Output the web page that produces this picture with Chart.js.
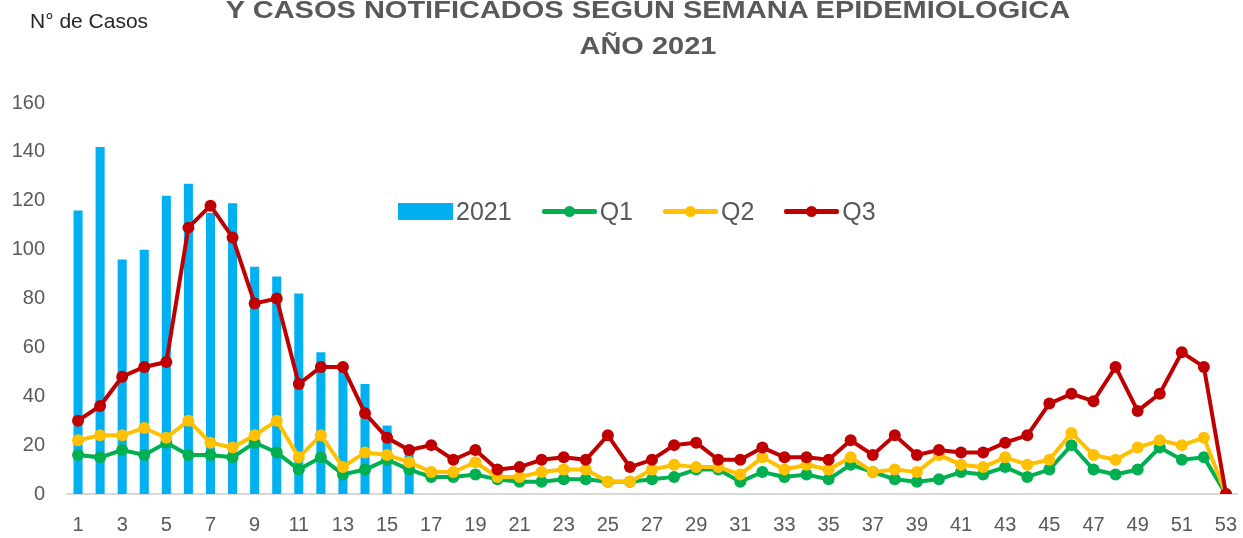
<!DOCTYPE html>
<html>
<head>
<meta charset="utf-8">
<script src="https://cdn.jsdelivr.net/npm/chart.js@4.4.1/dist/chart.umd.min.js"></script>
<style>
  html, body { margin: 0; padding: 0; background: #ffffff; }
  #wrap { position: relative; width: 1243px; height: 538px; overflow: hidden; font-family: "Liberation Sans", Arial, sans-serif; }
  #chart { position: absolute; left: 0; top: 0; }
  .title { position: absolute; left: 0; width: 1296px; text-align: center; font-weight: bold; font-size: 29px; color: #595959; white-space: nowrap; line-height: 1; transform: scaleY(0.82); transform-origin: 50% 0; }
  #ylabel { position: absolute; left: 30px; top: 8px; font-size: 21px; color: #262626; white-space: nowrap; line-height: 1.2; }
  #legend { position: absolute; left: 398px; top: 197px; display: flex; align-items: center; font-size: 25px; color: #595959; white-space: nowrap; }
  .li { display: flex; align-items: center; margin-right: 30px; }
  .sw { position: relative; width: 55px; height: 17px; margin-right: 3px; }
</style>
</head>
<body>
<div id="wrap">
  <canvas id="chart" width="1243" height="538"></canvas>
  <div class="title" id="t1" style="top:-2px;">Y CASOS NOTIFICADOS SEGUN SEMANA EPIDEMIOLOGICA</div>
  <div class="title" id="t2" style="top:34px;">AÑO 2021</div>
  <div id="ylabel">N° de Casos</div>
  <div id="legend"></div>
</div>
<script>
const weeks = ["1","2","3","4","5","6","7","8","9","10","11","12","13","14","15","16","17","18","19","20","21","22","23","24","25","26","27","28","29","30","31","32","33","34","35","36","37","38","39","40","41","42","43","44","45","46","47","48","49","50","51","52","53"];

const cases2021 = [116,142,96,100,122,127,115,119,93,89,82,58,50,45,28,17,
  null,null,null,null,null,null,null,null,null,null,null,null,null,null,null,null,null,null,null,null,null,
  null,null,null,null,null,null,null,null,null,null,null,null,null,null,null,null];

const q1 = [16,15,18,16,21,16,16,15,21,17,10,15,8,10,14,10,
  7,7,8,6,5,5,6,6,5,5,6,7,10,10,5,9,7,8,6,
  12,9,6,5,6,9,8,11,7,10,20,10,8,10,19,14,15,0];

const q2 = [22,24,24,27,23,30,21,19,24,30,15,24,11,17,16,13,
  9,9,13,7,7,9,10,10,5,5,10,12,11,11,8,15,10,12,10,
  15,9,10,9,16,12,11,15,12,14,25,16,14,19,22,20,23,0];

const q3 = [30,36,48,52,54,109,118,105,78,80,45,52,52,33,23,18,
  20,14,18,10,11,14,15,14,24,11,14,20,21,14,14,19,15,15,14,
  22,16,24,16,18,17,17,21,24,37,41,38,52,34,41,58,52,0];

const yTicks = [0,20,40,60,80,100,120,140,160];

const COL_BAR = "#00b0f0", COL_Q1 = "#00b050", COL_Q2 = "#ffc000", COL_Q3 = "#c00000";
const lineDs = (label, data, color, order) => ({
  type: "line", label, data, order,
  borderColor: color, backgroundColor: color,
  borderWidth: 4, pointRadius: 6, pointHoverRadius: 6,
  pointBackgroundColor: color, pointBorderColor: color, pointBorderWidth: 0,
  tension: 0, spanGaps: false
});

const chart = new Chart(document.getElementById("chart"), {
  type: "bar",
  data: {
    labels: weeks,
    datasets: [
      { type: "bar", label: "2021", data: cases2021, backgroundColor: COL_BAR, borderWidth: 0,
        barPercentage: 0.41, categoryPercentage: 1.0, order: 3 },
      lineDs("Q1", q1, COL_Q1, 2),
      lineDs("Q2", q2, COL_Q2, 1),
      lineDs("Q3", q3, COL_Q3, 0)
    ]
  },
  options: {
    responsive: false,
    animation: false,
    devicePixelRatio: 1,
    layout: { padding: { top: 103, right: 5, bottom: 1, left: 0 } },
    plugins: { legend: { display: false }, title: { display: false }, tooltip: { enabled: false } },
    scales: {
      x: {
        offset: true,
        afterFit: (s) => { s.height = 43; s.paddingLeft = 0; s.paddingRight = 0; },
        grid: { display: false, drawTicks: false },
        border: { display: true, color: "#d9d9d9", width: 2 },
        ticks: {
          autoSkip: false, maxRotation: 0, minRotation: 0, padding: 19,
          color: "#595959", font: { family: "'Liberation Sans', Arial, sans-serif", size: 20 },
          callback: function(v, i) { return (i % 2 === 0) ? weeks[i] : ""; }
        }
      },
      y: {
        min: 0, max: 160,
        afterFit: (s) => { s.width = 67; },
        afterBuildTicks: (s) => { s.ticks = yTicks.map(v => ({ value: v })); },
        grid: { display: false, drawTicks: false },
        border: { display: false },
        ticks: {
          padding: 22, color: "#595959",
          font: { family: "'Liberation Sans', Arial, sans-serif", size: 20 }
        }
      }
    }
  }
});

// HTML legend built from datasets
const legend = document.getElementById("legend");
chart.data.datasets.forEach((ds) => {
  const li = document.createElement("div");
  li.className = "li";
  const sw = document.createElement("div");
  sw.className = "sw";
  if (ds.type === "bar") {
    sw.style.background = ds.backgroundColor;
  } else {
    const ln = document.createElement("div");
    ln.style.cssText = "position:absolute;left:0;right:0;top:6px;height:5px;border-radius:2px;background:" + ds.borderColor;
    const pt = document.createElement("div");
    pt.style.cssText = "position:absolute;left:22px;top:3px;width:11px;height:11px;border-radius:50%;background:" + ds.borderColor;
    sw.appendChild(ln); sw.appendChild(pt);
  }
  const tx = document.createElement("span");
  tx.textContent = ds.label;
  li.appendChild(sw); li.appendChild(tx);
  legend.appendChild(li);
});
</script>
</body>
</html>
